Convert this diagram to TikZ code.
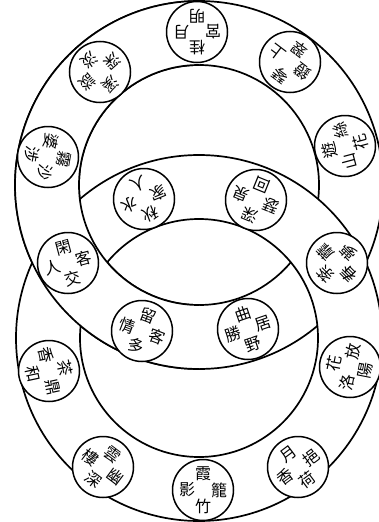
\documentclass[tikz,border=0pt]{standalone}
\usepackage{fontspec}
\newfontfamily\cjk{Noto Sans CJK TC}
\usetikzlibrary{calc}

\newcommand{\medal}[7]{%
  \node[disc] (#1) at (#2) {};
  \foreach \ch [count=\k from 0] in {#4,#5,#6,#7}
    \node[glyph, rotate=#3] at ($(#1)+({#3+90-90*\k}:16)$) {\ch};
}

\begin{document}
\begin{tikzpicture}[x=1pt, y=1pt,
    band/.style={line width=1.7pt},
    disc/.style={circle, draw, line width=1.5pt, fill=white, minimum size=61pt, inner sep=0pt},
    glyph/.style={font=\cjk\fontsize{16}{16}\selectfont, inner sep=0pt}
  ]
  \useasboundingbox (0,0) rectangle (378,-522);
  \coordinate (uc) at (199,-185);
  \coordinate (lc) at (199,-338);

  \draw[band] (uc) circle (184) (uc) circle (120);
  \fill[white, even odd rule] (lc) circle (183) (lc) circle (119);
  \draw[band] (lc) circle (183) (lc) circle (119);
  \begin{scope}
    \clip (0,0) rectangle (199,-522);
    \fill[white, even odd rule] (uc) circle (184) (uc) circle (120);
    \draw[band] (uc) circle (184) (uc) circle (120);
  \end{scope}

  \medal{top}{197,-32}{180}{桂}{月}{明}{宮}
  \medal{ur}{290,-62}{143}{琴}{上}{翠}{鐙}
  \medal{re}{345,-146}{105}{遊}{絲}{花}{山}
  \medal{rc}{337,-263}{135}{荼}{蘼}{夢}{春}
  \medal{rl}{350,-367}{79}{花}{放}{陽}{洛}
  \medal{br}{298,-467}{37}{月}{挹}{荷}{香}
  \medal{bt}{203,-490}{0}{霞}{籠}{竹}{影}
  \medal{bl}{103,-467}{-37}{雲}{幽}{深}{樓}
  \medal{ll}{49,-371}{-78}{茶}{鼎}{和}{香}
  \medal{lc}{68,-263}{15}{閑}{客}{交}{人}
  \medal{le}{48,-157}{260}{霧}{沙}{涉}{婆}
  \medal{ul}{100,-72}{221}{溪}{談}{淡}{深}
  \medal{iul}{144,-199}{202}{秋}{水}{人}{家}
  \medal{iur}{256,-200}{158}{深}{泉}{回}{瑟}
  \medal{ill}{142,-331}{-21}{留}{客}{多}{情}
  \medal{ilr}{248,-329}{19}{曲}{居}{野}{勝}
\end{tikzpicture}
\end{document}
